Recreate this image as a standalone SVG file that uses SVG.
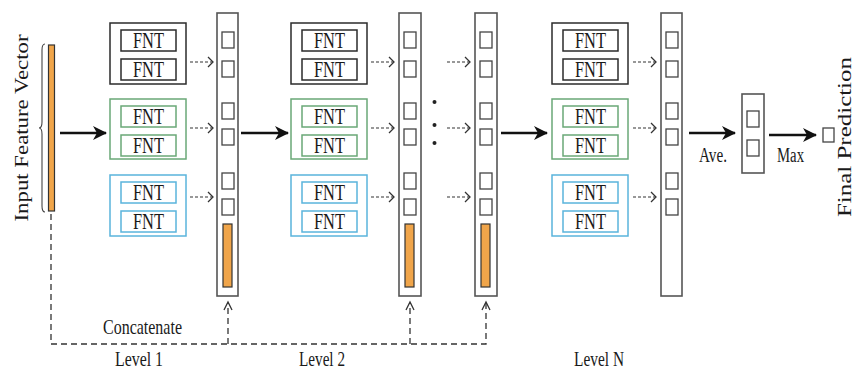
<svg xmlns="http://www.w3.org/2000/svg" width="855" height="371" viewBox="0 0 855 371">
  <style>
    .t { font-family: "Liberation Serif", "Times New Roman", serif; fill: #1a1a1a; }
    .fnt { font-size: 22.5px; }
    .grpK { fill: #fff; stroke: #2b2b2b; stroke-width: 1.5; }
    .grpG { fill: #fff; stroke: #6aa877; stroke-width: 1.5; }
    .grpB { fill: #fff; stroke: #5ab4dc; stroke-width: 1.5; }
    .col { fill: #fff; stroke: #555; stroke-width: 1.6; }
    .sq { fill: #fff; stroke: #444; stroke-width: 1.3; }
    .vec { fill: #f0a54a; stroke: #333; stroke-width: 1.2; }
    .solid { stroke: #111; stroke-width: 2.6; fill: none; }
    .dot { stroke: #333; stroke-width: 1.2; stroke-dasharray: 3 2; fill: none; }
    .chev { stroke: #333; stroke-width: 1.3; fill: none; }
    .dash { stroke: #333; stroke-width: 1.3; stroke-dasharray: 6 4; fill: none; }
  </style>
  <defs>
    <marker id="head" viewBox="0 0 14 14" refX="13" refY="7" markerWidth="14" markerHeight="14" markerUnits="userSpaceOnUse" orient="auto">
      <path d="M0,0 L14,7 L0,14 L4,7 Z" fill="#111"/>
    </marker>
    <!-- FNT pair boxes, one per colour -->
    <g id="fntK">
      <rect class="grpK" x="0" y="0" width="76" height="61"/>
      <rect class="grpK" x="11" y="7" width="55" height="21"/>
      <rect class="grpK" x="11" y="36" width="55" height="21"/>
      <text class="t fnt" x="38.5" y="25" text-anchor="middle" textLength="31" lengthAdjust="spacingAndGlyphs">FNT</text>
      <text class="t fnt" x="38.5" y="54" text-anchor="middle" textLength="31" lengthAdjust="spacingAndGlyphs">FNT</text>
    </g>
    <g id="fntG">
      <rect class="grpG" x="0" y="0" width="76" height="60"/>
      <rect class="grpG" x="11" y="7" width="55" height="21"/>
      <rect class="grpG" x="11" y="36" width="55" height="21"/>
      <text class="t fnt" x="38.5" y="25" text-anchor="middle" textLength="31" lengthAdjust="spacingAndGlyphs">FNT</text>
      <text class="t fnt" x="38.5" y="54" text-anchor="middle" textLength="31" lengthAdjust="spacingAndGlyphs">FNT</text>
    </g>
    <g id="fntB">
      <rect class="grpB" x="0" y="0" width="76" height="61"/>
      <rect class="grpB" x="11" y="7" width="55" height="21"/>
      <rect class="grpB" x="11" y="36" width="55" height="21"/>
      <text class="t fnt" x="38.5" y="25" text-anchor="middle" textLength="31" lengthAdjust="spacingAndGlyphs">FNT</text>
      <text class="t fnt" x="38.5" y="54" text-anchor="middle" textLength="31" lengthAdjust="spacingAndGlyphs">FNT</text>
    </g>
    <!-- output column cells -->
    <g id="cells">
      <rect class="sq" x="5" y="19" width="12" height="16"/>
      <rect class="sq" x="5" y="48" width="12" height="16"/>
      <rect class="sq" x="5" y="90" width="12" height="16"/>
      <rect class="sq" x="5" y="116" width="12" height="16"/>
      <rect class="sq" x="5" y="160" width="12" height="16"/>
      <rect class="sq" x="5" y="186" width="12" height="16"/>
    </g>
  </defs>

  <!-- input feature vector -->
  <g id="input">
    <text class="t" transform="translate(28,128) rotate(-90)" font-size="19" text-anchor="middle" textLength="187" lengthAdjust="spacingAndGlyphs">Input Feature Vector</text>
    <path d="M45,44 Q42,44 42,50 L42,122 Q42,128 39,128 Q42,128 42,134 L42,206 Q42,212 45,212" fill="none" stroke="#444" stroke-width="1.1"/>
    <rect class="vec" x="48.5" y="45" width="6" height="166"/>
  </g>

  <!-- level 1 -->
  <g id="level1">
    <use href="#fntK" x="110" y="23"/>
    <use href="#fntG" x="110" y="99"/>
    <use href="#fntB" x="110" y="175"/>
    <text class="t" x="139" y="366" font-size="22" text-anchor="middle" textLength="48" lengthAdjust="spacingAndGlyphs">Level 1</text>
  </g>
  <g id="col1">
    <rect class="col" x="217" y="13" width="21" height="283"/>
    <use href="#cells" x="217" y="13"/>
    <rect class="vec" x="223" y="224" width="9" height="63"/>
  </g>

  <!-- level 2 -->
  <g id="level2">
    <use href="#fntK" x="291" y="23"/>
    <use href="#fntG" x="291" y="99"/>
    <use href="#fntB" x="291" y="175"/>
    <text class="t" x="322" y="366" font-size="22" text-anchor="middle" textLength="46" lengthAdjust="spacingAndGlyphs">Level 2</text>
  </g>
  <g id="col2">
    <rect class="col" x="399" y="13" width="22" height="283"/>
    <use href="#cells" x="399" y="13"/>
    <rect class="vec" x="405" y="224" width="9" height="63"/>
  </g>
  <g id="ellipsis">
    <circle cx="434.5" cy="102" r="2" fill="#222"/>
    <circle cx="434.5" cy="125" r="2" fill="#222"/>
    <circle cx="434.5" cy="143" r="2" fill="#222"/>
  </g>
  <g id="col3">
    <rect class="col" x="475" y="13" width="22" height="283"/>
    <use href="#cells" x="475" y="13"/>
    <rect class="vec" x="481" y="224" width="9" height="63"/>
  </g>

  <!-- level N -->
  <g id="levelN">
    <use href="#fntK" x="552" y="23"/>
    <use href="#fntG" x="552" y="99"/>
    <use href="#fntB" x="552" y="175"/>
    <text class="t" x="599" y="366" font-size="22" text-anchor="middle" textLength="50" lengthAdjust="spacingAndGlyphs">Level N</text>
  </g>
  <g id="colN">
    <rect class="col" x="661" y="13" width="21" height="283"/>
    <use href="#cells" x="661" y="13"/>
  </g>

  <!-- averaged output and prediction -->
  <g id="average">
    <rect class="col" x="742" y="94" width="22" height="79"/>
    <rect class="sq" x="747" y="111" width="12" height="16"/>
    <rect class="sq" x="747" y="140" width="12" height="16"/>
  </g>
  <g id="prediction">
    <rect class="sq" x="823" y="128" width="11" height="14"/>
    <text class="t" transform="translate(851,137) rotate(-90)" font-size="18" text-anchor="middle" textLength="160" lengthAdjust="spacingAndGlyphs">Final Prediction</text>
  </g>

  <!-- connectors -->
  <g id="connectors">
    <line class="solid" x1="60" y1="133" x2="106" y2="133" marker-end="url(#head)"/>
    <line class="solid" x1="241" y1="133" x2="288" y2="133" marker-end="url(#head)"/>
    <line class="solid" x1="501" y1="133" x2="547" y2="133" marker-end="url(#head)"/>
    <line class="solid" x1="689" y1="133" x2="735" y2="133" marker-end="url(#head)"/>
    <line class="solid" x1="769" y1="135" x2="816" y2="135" marker-end="url(#head)"/>
    <text class="t" x="713" y="162" font-size="20" text-anchor="middle" textLength="28" lengthAdjust="spacingAndGlyphs">Ave.</text>
    <text class="t" x="790.5" y="162" font-size="20" text-anchor="middle" textLength="27" lengthAdjust="spacingAndGlyphs">Max</text>

    <!-- FNT outputs into columns -->
    <path class="dot" d="M190,62 H212 M190,128 H212 M190,197 H212"/>
    <path class="chev" d="M208,57 L213,62 L208,67 M208,123 L213,128 L208,133 M208,192 L213,197 L208,202"/>
    <path class="dot" d="M371,62 H393 M371,128 H393 M371,197 H393"/>
    <path class="chev" d="M389,57 L394,62 L389,67 M389,123 L394,128 L389,133 M389,192 L394,197 L389,202"/>
    <path class="dot" d="M447,62 H469 M447,128 H469 M447,197 H469"/>
    <path class="chev" d="M465,57 L470,62 L465,67 M465,123 L470,128 L465,133 M465,192 L470,197 L465,202"/>
    <path class="dot" d="M633,62 H655 M633,128 H655 M633,197 H655"/>
    <path class="chev" d="M651,57 L656,62 L651,67 M651,123 L656,128 L651,133 M651,192 L656,197 L651,202"/>

    <!-- concatenation of the input vector -->
    <path class="dash" d="M51,214 V344 H486 V304"/>
    <path class="dash" d="M228,344 V304 M410,344 V304"/>
    <path class="chev" d="M224,310 L228,302 L232,310 M406,310 L410,302 L414,310 M482,310 L486,302 L490,310"/>
    <text class="t" x="142.5" y="334" font-size="22" text-anchor="middle" textLength="79" lengthAdjust="spacingAndGlyphs">Concatenate</text>
  </g>
</svg>
